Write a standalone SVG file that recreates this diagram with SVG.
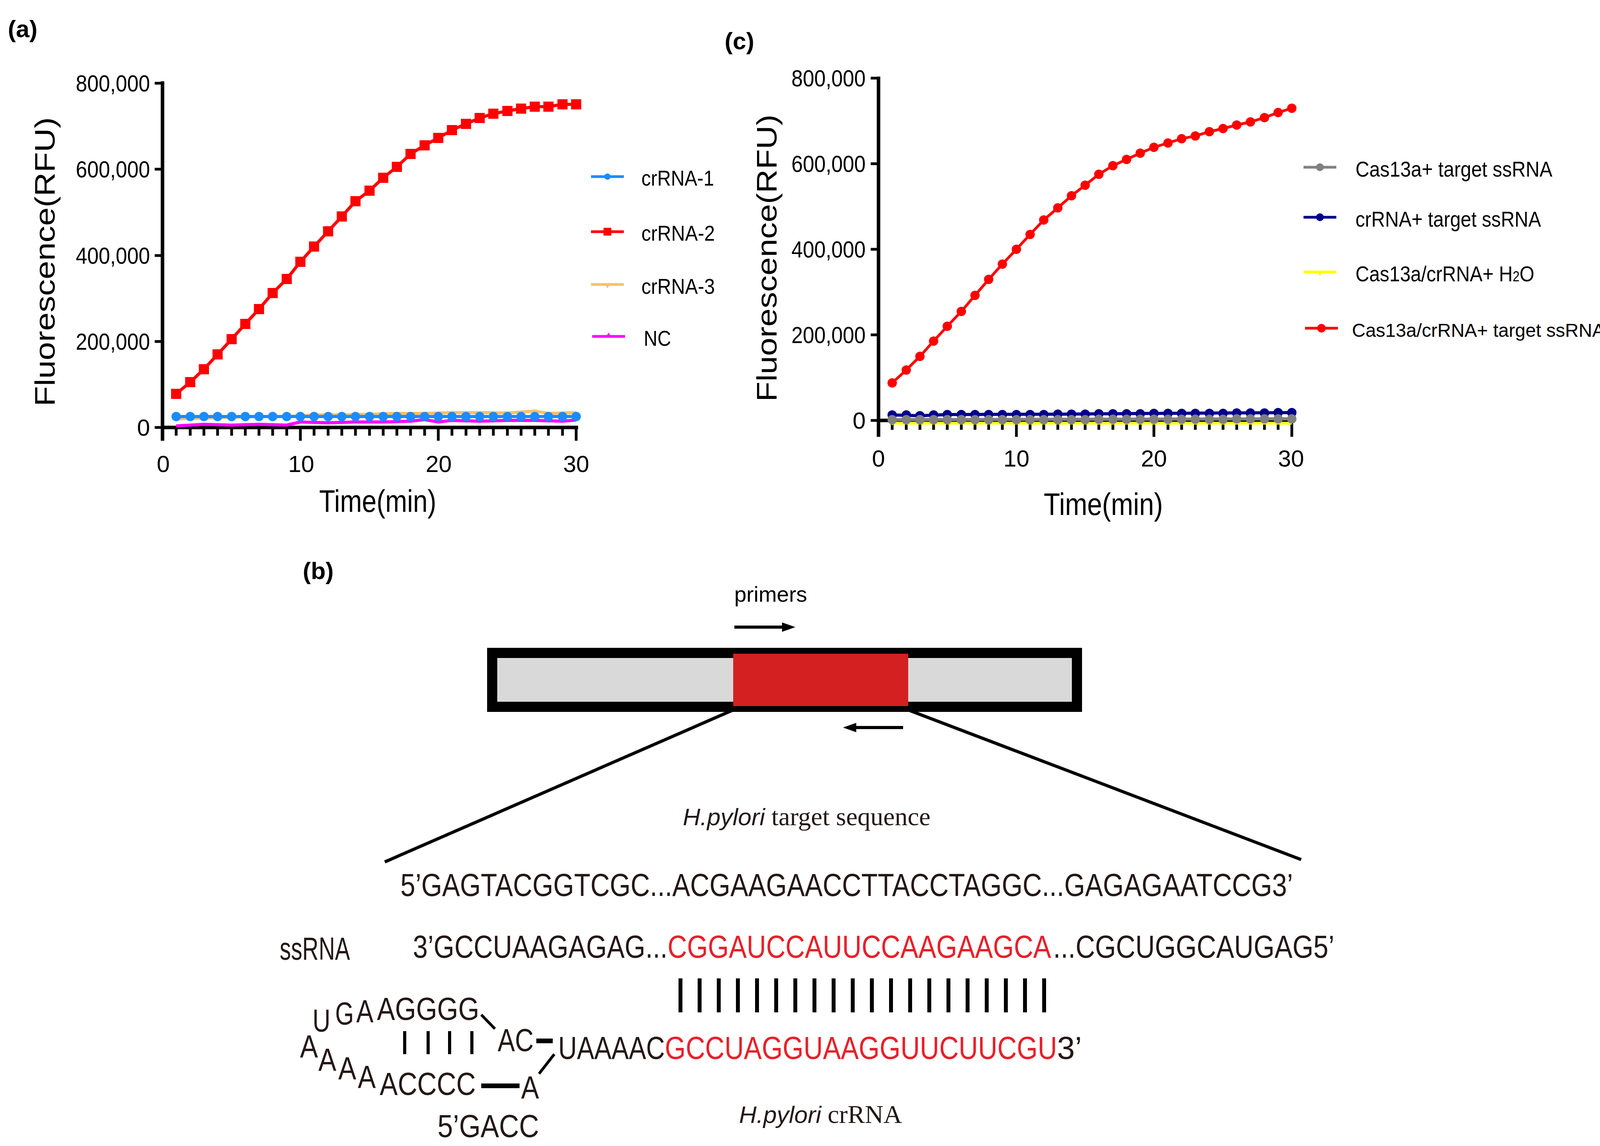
<svg xmlns="http://www.w3.org/2000/svg" xmlns:xlink="http://www.w3.org/1999/xlink" width="4152" height="2933" viewBox="0 0 4152 2933">
<style>
.t{font-family:"Liberation Sans",Arial,sans-serif;fill:#000}
.s{font-family:"Liberation Serif","Times New Roman",serif;fill:#231815}
.lab{font-family:"Liberation Sans",Arial,sans-serif;font-weight:bold;font-size:62px}
.ax{stroke:#000;stroke-width:9;fill:none}
.tk{stroke:#000;stroke-width:7}
.seq{font-family:"Liberation Sans",Arial,sans-serif;font-size:82px;fill:#231815}
.red{fill:#e8202a}
.bar{stroke:#000;stroke-width:10}
</style>
<defs>
<rect id="sq" x="-13" y="-13" width="26" height="26" fill="#f00"/>
<circle id="cb" r="12" fill="#1a8cff"/>
<circle id="cr" r="12" fill="#f00"/>
<circle id="cn" r="12" fill="#00008b"/>
<circle id="cg" r="12" fill="#808080"/>
</defs>
<rect width="4152" height="2933" fill="#fff"/>

<g id="panel-a">
<text class="lab" x="20" y="95">(a)</text>
<path class="ax" d="M416 208V1128M412 1094H1480"/>
<path class="tk" d="M396 213H416M396 433H416M396 654H416M396 874H416M396 1094H416"/>
<path class="tk" d="M451 1094V1115M487 1094V1115M522 1094V1115M557 1094V1115M593 1094V1115M628 1094V1115M663 1094V1115M698 1094V1115M734 1094V1115M769 1094V1128M804 1094V1115M840 1094V1115M875 1094V1115M910 1094V1115M946 1094V1115M981 1094V1115M1016 1094V1115M1051 1094V1115M1087 1094V1115M1122 1094V1128M1157 1094V1115M1193 1094V1115M1228 1094V1115M1263 1094V1115M1299 1094V1115M1334 1094V1115M1369 1094V1115M1404 1094V1115M1440 1094V1115M1475 1094V1128"/>
<g class="t" font-size="60" text-anchor="end">
<text x="384" y="234" textLength="190" lengthAdjust="spacingAndGlyphs">800,000</text>
<text x="384" y="454" textLength="190" lengthAdjust="spacingAndGlyphs">600,000</text>
<text x="384" y="675" textLength="190" lengthAdjust="spacingAndGlyphs">400,000</text>
<text x="384" y="895" textLength="190" lengthAdjust="spacingAndGlyphs">200,000</text>
<text x="384" y="1115">0</text>
</g>
<g class="t" font-size="60" text-anchor="middle">
<text x="418" y="1208">0</text><text x="771" y="1208">10</text><text x="1123" y="1208">20</text><text x="1475" y="1208">30</text>
</g>
<text class="t" font-size="72" transform="translate(140 1040) rotate(-90)" textLength="740" lengthAdjust="spacingAndGlyphs">Fluorescence(RFU)</text>
<text class="t" font-size="80" x="817" y="1310" textLength="300" lengthAdjust="spacingAndGlyphs">Time(min)</text>
<polyline fill="none" stroke="#fdc068" stroke-width="8" points="451,1072 522,1070 593,1068 663,1066 734,1066 804,1062 875,1062 946,1060 1016,1058 1087,1058 1157,1056 1228,1056 1299,1057 1369,1052 1404,1058 1475,1056"/>
<polyline fill="none" stroke="#ff00ff" stroke-width="8" points="451,1090 522,1086 593,1088 663,1086 734,1088 769,1080 840,1082 910,1080 981,1080 1051,1078 1087,1074 1122,1080 1157,1076 1228,1078 1299,1076 1369,1076 1440,1078 1475,1075"/>
<polyline fill="none" stroke="#1a8cff" stroke-width="8" points="451,1066 1475,1066"/>
<g>
<use href="#cb" x="451" y="1066"/><use href="#cb" x="487" y="1066"/><use href="#cb" x="522" y="1066"/><use href="#cb" x="557" y="1066"/><use href="#cb" x="593" y="1066"/><use href="#cb" x="628" y="1066"/><use href="#cb" x="663" y="1066"/><use href="#cb" x="698" y="1066"/><use href="#cb" x="734" y="1066"/><use href="#cb" x="769" y="1066"/><use href="#cb" x="804" y="1066"/><use href="#cb" x="840" y="1066"/><use href="#cb" x="875" y="1066"/><use href="#cb" x="910" y="1066"/><use href="#cb" x="946" y="1066"/><use href="#cb" x="981" y="1066"/><use href="#cb" x="1016" y="1066"/><use href="#cb" x="1051" y="1066"/><use href="#cb" x="1087" y="1066"/><use href="#cb" x="1122" y="1066"/><use href="#cb" x="1157" y="1066"/><use href="#cb" x="1193" y="1066"/><use href="#cb" x="1228" y="1066"/><use href="#cb" x="1263" y="1066"/><use href="#cb" x="1299" y="1066"/><use href="#cb" x="1334" y="1066"/><use href="#cb" x="1369" y="1066"/><use href="#cb" x="1404" y="1066"/><use href="#cb" x="1440" y="1066"/><use href="#cb" x="1475" y="1066"/>
</g>
<polyline fill="none" stroke="#f00" stroke-width="8" points="451,1008 487,978 522,945 557,907 593,868 628,829 663,791 698,750 734,714 769,670 804,631 840,592 875,554 910,515 946,488 981,455 1016,427 1051,394 1087,372 1122,353 1157,333 1193,317 1228,302 1263,291 1299,284 1334,278 1369,273 1404,273 1440,267 1475,267"/>
<g>
<use href="#sq" x="451" y="1008"/><use href="#sq" x="487" y="978"/><use href="#sq" x="522" y="945"/><use href="#sq" x="557" y="907"/><use href="#sq" x="593" y="868"/><use href="#sq" x="628" y="829"/><use href="#sq" x="663" y="791"/><use href="#sq" x="698" y="750"/><use href="#sq" x="734" y="714"/><use href="#sq" x="769" y="670"/><use href="#sq" x="804" y="631"/><use href="#sq" x="840" y="592"/><use href="#sq" x="875" y="554"/><use href="#sq" x="910" y="515"/><use href="#sq" x="946" y="488"/><use href="#sq" x="981" y="455"/><use href="#sq" x="1016" y="427"/><use href="#sq" x="1051" y="394"/><use href="#sq" x="1087" y="372"/><use href="#sq" x="1122" y="353"/><use href="#sq" x="1157" y="333"/><use href="#sq" x="1193" y="317"/><use href="#sq" x="1228" y="302"/><use href="#sq" x="1263" y="291"/><use href="#sq" x="1299" y="284"/><use href="#sq" x="1334" y="278"/><use href="#sq" x="1369" y="273"/><use href="#sq" x="1404" y="273"/><use href="#sq" x="1440" y="267"/><use href="#sq" x="1475" y="267"/>
</g>
<g id="legend-a">
<path d="M1513 452H1597" stroke="#1a8cff" stroke-width="7"/><circle cx="1555" cy="452" r="8" fill="#1a8cff"/>
<path d="M1513 593H1597" stroke="#f00" stroke-width="7"/><rect x="1545" y="583" width="20" height="20" fill="#f00"/>
<path d="M1513 728H1597" stroke="#fdc068" stroke-width="7"/><path d="M1549 728h12l-6 10z" fill="#fdc068"/>
<path d="M1516 861H1600" stroke="#ff00ff" stroke-width="7"/><path d="M1552 861l6-10l6 10z" fill="#ff00ff"/>
<g class="t" font-size="56">
<text x="1642" y="475" textLength="186" lengthAdjust="spacingAndGlyphs">crRNA-1</text>
<text x="1642" y="616" textLength="188" lengthAdjust="spacingAndGlyphs">crRNA-2</text>
<text x="1642" y="752" textLength="188" lengthAdjust="spacingAndGlyphs">crRNA-3</text>
<text x="1648" y="885" textLength="70" lengthAdjust="spacingAndGlyphs">NC</text>
</g>
</g>
</g>

<g id="panel-c">
<text class="lab" x="1855" y="126">(c)</text>
<path class="ax" d="M2249 196V1118M2245 1076H3312"/>
<path class="tk" d="M2229 200H2249M2229 419H2249M2229 638H2249M2229 857H2249M2229 1076H2249"/>
<path class="tk" d="M2284 1076V1100M2320 1076V1100M2355 1076V1100M2390 1076V1100M2425 1076V1100M2461 1076V1100M2496 1076V1100M2531 1076V1100M2566 1076V1100M2602 1076V1118M2637 1076V1100M2672 1076V1100M2708 1076V1100M2743 1076V1100M2778 1076V1100M2813 1076V1100M2849 1076V1100M2884 1076V1100M2919 1076V1100M2954 1076V1118M2990 1076V1100M3025 1076V1100M3060 1076V1100M3096 1076V1100M3131 1076V1100M3166 1076V1100M3201 1076V1100M3237 1076V1100M3272 1076V1100M3307 1076V1118"/>
<g class="t" font-size="60" text-anchor="end">
<text x="2216" y="221" textLength="190" lengthAdjust="spacingAndGlyphs">800,000</text>
<text x="2216" y="440" textLength="190" lengthAdjust="spacingAndGlyphs">600,000</text>
<text x="2216" y="659" textLength="190" lengthAdjust="spacingAndGlyphs">400,000</text>
<text x="2216" y="878" textLength="190" lengthAdjust="spacingAndGlyphs">200,000</text>
<text x="2216" y="1097">0</text>
</g>
<g class="t" font-size="60" text-anchor="middle">
<text x="2249" y="1194">0</text><text x="2602" y="1194">10</text><text x="2954" y="1194">20</text><text x="3305" y="1194">30</text>
</g>
<text class="t" font-size="72" transform="translate(1988 1028) rotate(-90)" textLength="735" lengthAdjust="spacingAndGlyphs">Fluorescence(RFU)</text>
<text class="t" font-size="80" x="2672" y="1318" textLength="305" lengthAdjust="spacingAndGlyphs">Time(min)</text>
<polyline fill="none" stroke="#ffff00" stroke-width="7" points="2284,1083 3307,1083"/>
<g fill="#ffff00"><path d="M2278 1080h12l-6 9z M2355 1080h12l-6 9z M2425 1080h12l-6 9z M2496 1080h12l-6 9z M2566 1080h12l-6 9z M2637 1080h12l-6 9z M2708 1080h12l-6 9z M2778 1080h12l-6 9z M2849 1080h12l-6 9z M2919 1080h12l-6 9z M2990 1080h12l-6 9z M3060 1080h12l-6 9z M3131 1080h12l-6 9z M3201 1080h12l-6 9z M3272 1080h12l-6 9z"/></g>
<polyline fill="none" stroke="#00008b" stroke-width="8" points="2284,1062 2355,1064 2425,1061 2708,1060 2954,1058 3307,1056"/>
<g>
<use href="#cn" x="2284" y="1062"/><use href="#cn" x="2320" y="1062"/><use href="#cn" x="2355" y="1064"/><use href="#cn" x="2390" y="1062"/><use href="#cn" x="2425" y="1061"/><use href="#cn" x="2461" y="1061"/><use href="#cn" x="2496" y="1061"/><use href="#cn" x="2531" y="1061"/><use href="#cn" x="2566" y="1061"/><use href="#cn" x="2602" y="1061"/><use href="#cn" x="2637" y="1061"/><use href="#cn" x="2672" y="1061"/><use href="#cn" x="2708" y="1060"/><use href="#cn" x="2743" y="1060"/><use href="#cn" x="2778" y="1060"/><use href="#cn" x="2813" y="1059"/><use href="#cn" x="2849" y="1059"/><use href="#cn" x="2884" y="1059"/><use href="#cn" x="2919" y="1059"/><use href="#cn" x="2954" y="1058"/><use href="#cn" x="2990" y="1058"/><use href="#cn" x="3025" y="1058"/><use href="#cn" x="3060" y="1058"/><use href="#cn" x="3096" y="1058"/><use href="#cn" x="3131" y="1058"/><use href="#cn" x="3166" y="1057"/><use href="#cn" x="3201" y="1057"/><use href="#cn" x="3237" y="1057"/><use href="#cn" x="3272" y="1056"/><use href="#cn" x="3307" y="1056"/>
</g>
<polyline fill="none" stroke="#808080" stroke-width="8" points="2284,1074 3307,1072"/>
<g>
<use href="#cg" x="2284" y="1074"/><use href="#cg" x="2320" y="1074"/><use href="#cg" x="2355" y="1074"/><use href="#cg" x="2390" y="1074"/><use href="#cg" x="2425" y="1074"/><use href="#cg" x="2461" y="1074"/><use href="#cg" x="2496" y="1074"/><use href="#cg" x="2531" y="1074"/><use href="#cg" x="2566" y="1074"/><use href="#cg" x="2602" y="1074"/><use href="#cg" x="2637" y="1074"/><use href="#cg" x="2672" y="1074"/><use href="#cg" x="2708" y="1074"/><use href="#cg" x="2743" y="1074"/><use href="#cg" x="2778" y="1074"/><use href="#cg" x="2813" y="1073"/><use href="#cg" x="2849" y="1073"/><use href="#cg" x="2884" y="1073"/><use href="#cg" x="2919" y="1073"/><use href="#cg" x="2954" y="1073"/><use href="#cg" x="2990" y="1073"/><use href="#cg" x="3025" y="1073"/><use href="#cg" x="3060" y="1073"/><use href="#cg" x="3096" y="1073"/><use href="#cg" x="3131" y="1073"/><use href="#cg" x="3166" y="1072"/><use href="#cg" x="3201" y="1072"/><use href="#cg" x="3237" y="1072"/><use href="#cg" x="3272" y="1072"/><use href="#cg" x="3307" y="1072"/>
</g>
<polyline fill="none" stroke="#f00" stroke-width="7" points="2284,980 2320,947 2355,912 2390,873 2425,835 2461,797 2496,756 2531,715 2566,676 2602,638 2637,600 2672,563 2708,532 2743,501 2778,474 2813,446 2849,424 2884,408 2919,392 2954,377 2990,366 3025,355 3060,348 3096,337 3131,329 3166,320 3201,312 3237,301 3272,288 3307,277"/>
<g>
<use href="#cr" x="2284" y="980"/><use href="#cr" x="2320" y="947"/><use href="#cr" x="2355" y="912"/><use href="#cr" x="2390" y="873"/><use href="#cr" x="2425" y="835"/><use href="#cr" x="2461" y="797"/><use href="#cr" x="2496" y="756"/><use href="#cr" x="2531" y="715"/><use href="#cr" x="2566" y="676"/><use href="#cr" x="2602" y="638"/><use href="#cr" x="2637" y="600"/><use href="#cr" x="2672" y="563"/><use href="#cr" x="2708" y="532"/><use href="#cr" x="2743" y="501"/><use href="#cr" x="2778" y="474"/><use href="#cr" x="2813" y="446"/><use href="#cr" x="2849" y="424"/><use href="#cr" x="2884" y="408"/><use href="#cr" x="2919" y="392"/><use href="#cr" x="2954" y="377"/><use href="#cr" x="2990" y="366"/><use href="#cr" x="3025" y="355"/><use href="#cr" x="3060" y="348"/><use href="#cr" x="3096" y="337"/><use href="#cr" x="3131" y="329"/><use href="#cr" x="3166" y="320"/><use href="#cr" x="3201" y="312"/><use href="#cr" x="3237" y="301"/><use href="#cr" x="3272" y="288"/><use href="#cr" x="3307" y="277"/>
</g>
<g id="legend-c">
<path d="M3337 428H3421" stroke="#808080" stroke-width="7"/><circle cx="3379" cy="428" r="10" fill="#808080"/>
<path d="M3337 556H3421" stroke="#00008b" stroke-width="7"/><circle cx="3379" cy="556" r="10" fill="#00008b"/>
<path d="M3337 696H3421" stroke="#ffff00" stroke-width="7"/><path d="M3373 696h12l-6 10z" fill="#ffff00"/>
<path d="M3341 840H3425" stroke="#f00" stroke-width="7"/><circle cx="3383" cy="840" r="11" fill="#f00"/>
<g class="t" font-size="56">
<text x="3470" y="452" textLength="504" lengthAdjust="spacingAndGlyphs">Cas13a+ target ssRNA</text>
<text x="3470" y="580" textLength="475" lengthAdjust="spacingAndGlyphs">crRNA+ target ssRNA</text>
<text x="3470" y="720" textLength="458" lengthAdjust="spacingAndGlyphs">Cas13a/crRNA+ H<tspan font-size="36">2</tspan>O</text>
<text x="3461" y="862" font-size="48">Cas13a/crRNA+ target ssRNA</text>
</g>
</g>
</g>

<g id="panel-b">
<text class="lab" x="775" y="1482">(b)</text>
<text class="t" font-size="56" x="1973" y="1540" text-anchor="middle">primers</text>
<rect x="1260" y="1671" width="1497" height="138" fill="#d9d9d9" stroke="#000" stroke-width="26"/>
<rect x="1877" y="1673" width="448" height="134" fill="#d42020"/>
<g id="connectors" stroke="#000" fill="none">
<path d="M1880 1605H2010" stroke-width="8"/><path d="M2036 1605l-34-12v24z" fill="#000" stroke="none"/>
<path d="M2312 1862H2186" stroke-width="8"/><path d="M2158 1862l34-12v24z" fill="#000" stroke="none"/>
<path d="M1877 1817L985 2206M2325 1817L3331 2200" stroke-width="8"/>
</g>
<text class="s" font-size="66" x="1748" y="2112"><tspan font-family="Liberation Sans,Arial,sans-serif" font-style="italic" font-size="62">H.pylori</tspan>  target sequence</text>
<text class="seq" x="1025" y="2293" textLength="2285" lengthAdjust="spacingAndGlyphs">5’GAGTACGGTCGC...ACGAAGAACCTTACCTAGGC...GAGAGAATCCG3’</text>
<text class="seq" font-size="64" x="716" y="2456" textLength="180" lengthAdjust="spacingAndGlyphs">ssRNA</text>
<text class="seq" x="1057" y="2451" textLength="652" lengthAdjust="spacingAndGlyphs">3’GCCUAAGAGAG...</text>
<text class="seq red" x="1709" y="2451" textLength="982" lengthAdjust="spacingAndGlyphs">CGGAUCCAUUCCAAGAAGCA</text>
<text class="seq" x="2696" y="2451" textLength="720" lengthAdjust="spacingAndGlyphs">...CGCUGGCAUGAG5’</text>
<path class="bar" d="M1742 2504V2591M1791 2504V2591M1840 2504V2591M1889 2504V2591M1938 2504V2591M1987 2504V2591M2036 2504V2591M2085 2504V2591M2134 2504V2591M2183 2504V2591M2232 2504V2591M2281 2504V2591M2330 2504V2591M2379 2504V2591M2428 2504V2591M2477 2504V2591M2526 2504V2591M2575 2504V2591M2624 2504V2591M2673 2504V2591"/>
<text class="seq" x="1429" y="2710" textLength="273" lengthAdjust="spacingAndGlyphs">UAAAAC</text>
<text class="seq red" x="1702" y="2710" textLength="1004" lengthAdjust="spacingAndGlyphs">GCCUAGGUAAGGUUCUUCGU</text>
<text class="seq" x="2706" y="2710">3’</text>
<g class="seq">
<text x="800" y="2640" textLength="46" lengthAdjust="spacingAndGlyphs">U</text>
<text x="858" y="2622" textLength="48" lengthAdjust="spacingAndGlyphs">G</text>
<text x="912" y="2616" textLength="44" lengthAdjust="spacingAndGlyphs">A</text>
<text x="965" y="2610" textLength="262" lengthAdjust="spacingAndGlyphs">AGGGG</text>
<text x="1274" y="2690" textLength="92" lengthAdjust="spacingAndGlyphs">AC</text>
<text x="768" y="2706" textLength="46" lengthAdjust="spacingAndGlyphs">A</text>
<text x="815" y="2740" textLength="46" lengthAdjust="spacingAndGlyphs">A</text>
<text x="866" y="2762" textLength="46" lengthAdjust="spacingAndGlyphs">A</text>
<text x="916" y="2784" textLength="46" lengthAdjust="spacingAndGlyphs">A</text>
<text x="972" y="2802" textLength="246" lengthAdjust="spacingAndGlyphs">ACCCC</text>
<text x="1334" y="2811" textLength="46" lengthAdjust="spacingAndGlyphs">A</text>
<text x="1120" y="2910" textLength="260" lengthAdjust="spacingAndGlyphs">5’GACC</text>
</g>
<path d="M1036 2639V2698M1096 2639V2698M1151 2639V2698M1208 2639V2698" stroke="#000" stroke-width="8"/>
<path d="M1232 2597L1267 2633M1380 2748L1419 2698" stroke="#000" stroke-width="7"/>
<path d="M1373 2664H1415M1232 2779H1330" stroke="#000" stroke-width="12"/>
<text class="s" font-size="66" x="1892" y="2874"><tspan font-family="Liberation Sans,Arial,sans-serif" font-style="italic" font-size="62">H.pylori</tspan>  crRNA</text>
</g>
</svg>
